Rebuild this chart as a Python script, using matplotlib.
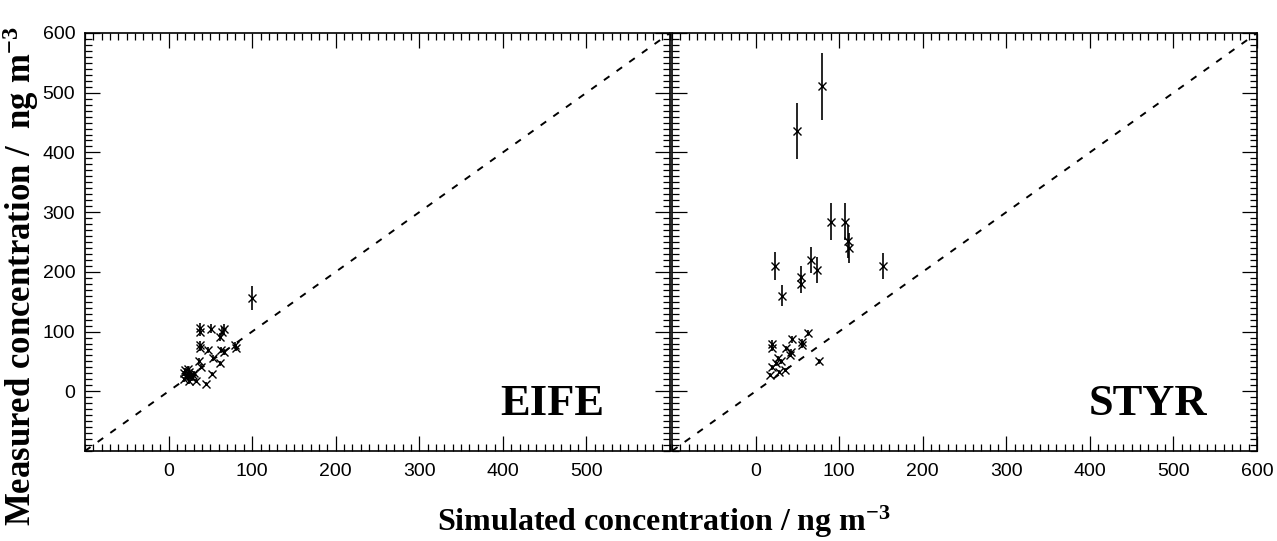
from __future__ import annotations

import matplotlib
matplotlib.use("Agg")
import matplotlib.pyplot as plt
from matplotlib.ticker import MultipleLocator

# EIFE: simulated vs measured (ng m-3) with measurement uncertainty
eife_sim = [18, 19, 20, 21, 22, 23, 24, 25, 26, 28, 29, 30, 33, 37, 39,
            38, 38, 38, 38, 45, 47, 51, 53, 52, 61, 63, 61, 66, 66, 64,
            80, 81, 100]
eife_meas = [20, 30, 35, 24, 28, 38, 17, 33, 25, 22, 27, 30, 18, 50, 41,
             106, 100, 77, 73, 13, 69, 105, 55, 29, 91, 69, 47, 104, 66, 100,
             77, 73, 156]
eife_err = [4, 4, 4, 4, 4, 4, 4, 4, 4, 4, 4, 4, 3, 5, 4,
            8, 8, 7, 6, 3, 5, 8, 5, 3, 6, 5, 4, 8, 5, 7,
            6, 6, 20]

# STYR
styr_sim = [80, 50, 90, 107, 111, 112, 23, 66, 74, 152, 54, 54, 32,
            20, 20, 44, 56, 56, 63, 36, 41, 27, 24, 20, 17, 28, 35, 76,
            42, 30]
styr_meas = [511, 436, 284, 284, 251, 240, 210, 220, 203, 210, 192, 180, 160,
             80, 72, 87, 83, 78, 97, 72, 61, 55, 47, 40, 27, 33, 36, 50,
             66, 50]
styr_err = [56, 47, 31, 31, 27, 25, 24, 22, 22, 22, 18, 15, 18,
            6, 5, 6, 5, 5, 5, 4, 4, 4, 4, 4, 3, 3, 3, 4,
            4, 4]

left_xticks = [0, 100, 200, 300, 400, 500]
right_xticks = [0, 100, 200, 300, 400, 500, 600]
yticks = [0, 100, 200, 300, 400, 500, 600]

SANS = ["Liberation Sans", "DejaVu Sans"]
SERIF = ["Liberation Serif", "DejaVu Serif"]

plt.rcParams["mathtext.fontset"] = "custom"
plt.rcParams["mathtext.rm"] = "Liberation Serif:bold"
plt.rcParams["mathtext.bf"] = "Liberation Serif:bold"
plt.rcParams["mathtext.it"] = "Liberation Serif:bold:italic"


def style_axes(ax, xticks, show_ylabels):
    ax.set_xlim(-100, 600)
    ax.set_ylim(-100, 600)
    ax.set_xticks(xticks)
    ax.set_yticks(yticks)
    ax.xaxis.set_minor_locator(MultipleLocator(10))
    ax.yaxis.set_minor_locator(MultipleLocator(10))
    ax.tick_params(which="both", direction="in", top=True, right=True,
                   width=0.9, color="black")
    ax.tick_params(which="major", length=11)
    ax.tick_params(which="minor", length=5)
    ax.tick_params(axis="x", which="major", pad=9)
    ax.tick_params(axis="y", which="major", pad=7)
    for lab in ax.get_xticklabels() + ax.get_yticklabels():
        lab.set_family(SANS)
        lab.set_fontsize(14)
    if not show_ylabels:
        ax.set_yticklabels([])
    for sp in ax.spines.values():
        sp.set_linewidth(1.2)


def draw_panel(ax, sim, meas, err, name, name_x):
    ax.plot([-100, 600], [-100, 600], color="black", lw=1.4,
            linestyle=(0, (3.5, 4.5)))
    ax.errorbar(sim, meas, yerr=err, fmt="x", color="black", ms=6,
                mew=1.0, elinewidth=1.2, capsize=0)
    ax.text(name_x, -40, name, ha="right", va="baseline", family=SERIF,
            fontweight="bold", fontsize=32)


fig = plt.figure(figsize=(12.77, 5.41), dpi=100)
ax1 = fig.add_axes([85 / 1277, 90 / 541, 585 / 1277, 418 / 541])
ax2 = fig.add_axes([672 / 1277, 90 / 541, 585 / 1277, 418 / 541])

draw_panel(ax1, eife_sim, eife_meas, eife_err, "EIFE", 522)
draw_panel(ax2, styr_sim, styr_meas, styr_err, "STYR", 540)
style_axes(ax1, left_xticks, True)
style_axes(ax2, right_xticks, False)

fig.text(664 / 1277, 1 - 522 / 541, "Simulated concentration / ng m$^{-3}$",
         ha="center", va="center", family=SERIF, fontweight="bold",
         fontsize=23)
fig.text(21 / 1277, 1 - 276 / 541, "Measured concentration /  ng m$^{-3}$",
         ha="center", va="center", rotation=90, family=SERIF,
         fontweight="bold", fontsize=25)

fig.savefig("out.png", dpi=100)
